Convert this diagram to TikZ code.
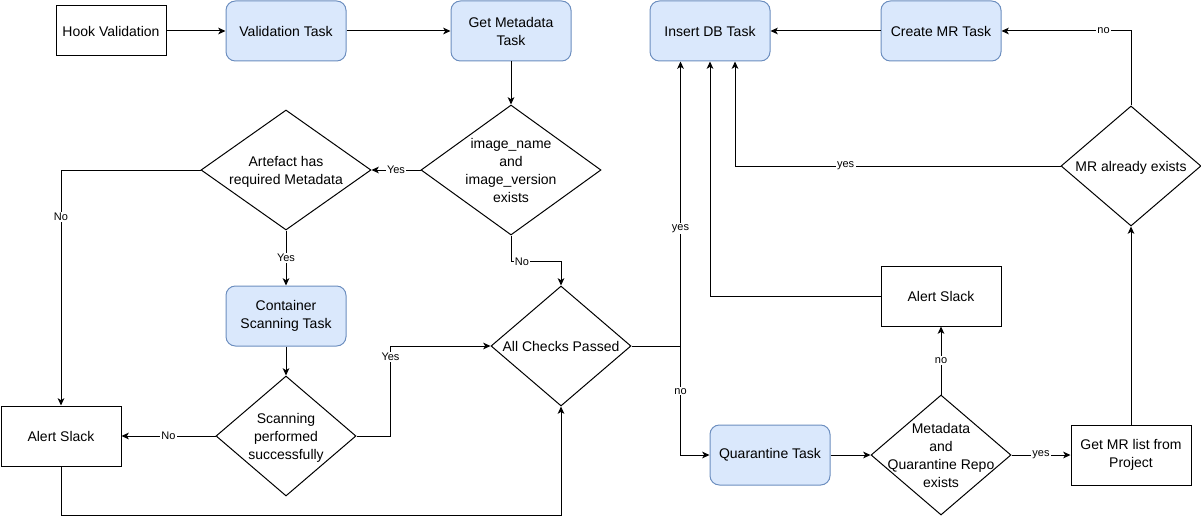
\documentclass[tikz,border=0pt]{standalone}
\usepackage{fontspec}
\setmainfont{Liberation Sans}
\usepackage{xcolor}
\usepackage{tikz}
\usetikzlibrary{shapes.geometric,calc,arrows.meta}
\definecolor{taskfill}{HTML}{DAE8FC}
\definecolor{taskline}{HTML}{6C8EBF}
\newcommand{\dtxt}[1]{\makebox[0pt]{\smash{\raisebox{-0.42em}{\begin{tabular}{@{}c@{}}#1\end{tabular}}}}}

\begin{document}
\begin{tikzpicture}[x=0.75pt,y=-0.75pt,line width=0.75pt,
  >={Stealth[length=5.5pt,width=5pt,inset=1.5pt]},
  font=\fontsize{10.5}{13.5}\selectfont,
  task/.style={draw=taskline,fill=taskfill,rounded corners=7pt,minimum width=90pt,minimum height=45pt,align=center,inner sep=2pt},
  box/.style={draw,fill=white,minimum width=90pt,minimum height=45pt,align=center,inner sep=2pt},
  dia/.style={draw,diamond,inner sep=0pt,minimum width=105pt,minimum height=90pt},
  lbl/.style={fill=white,inner sep=1pt,font=\fontsize{8.25}{9}\selectfont}]
\useasboundingbox (0,0) rectangle (1201,524);
\node[box,minimum width=82.5pt,minimum height=37.5pt] (hook) at (111,31) {Hook Validation};
\node[task] (valid) at (286,31) {Validation Task};
\node[task] (getmeta) at (511,31) {Get Metadata\\Task};
\node[task] (insertdb) at (710,31) {Insert DB Task};
\node[task] (createmr) at (941,31) {Create MR Task};
\node[dia,minimum width=135pt,minimum height=97.5pt] (chkname) at (511,170) {\dtxt{image\_name\\and\\image\_version\\exists}};
\node[dia,minimum width=127.5pt] (artefact) at (286,170) {\dtxt{Artefact has\\required Metadata}};
\node[task] (scanjob) at (286,316) {Container\\Scanning Task};
\node[dia] (scanok) at (286,436) {\dtxt{Scanning\\performed\\successfully}};
\node[box] (slackl) at (61,436) {Alert Slack};
\node[dia] (allchk) at (561,346) {\dtxt{All Checks Passed}};
\node[box] (slackr) at (941,296) {Alert Slack};
\node[task] (quar) at (770,455) {Quarantine Task};
\node[dia] (quarok) at (941,455) {\dtxt{Metadata\\and\\Quarantine Repo\\exists}};
\node[box] (getmr) at (1131,455) {Get MR list from\\Project};
\node[dia] (mrexists) at (1131,166) {\dtxt{MR already exists}};
% left part
\draw[->] (hook) -- (valid);
\draw[->] (valid) -- (getmeta);
\draw[->] (getmeta) -- (chkname);
\draw[->] (chkname) -- node[lbl]{Yes} (artefact);
\draw[->] (chkname.south) -- ++(0,26) -| node[lbl,pos=0.11]{No} (allchk.north);
\draw[->] (artefact.west) -| node[lbl,pos=0.6]{No} (slackl.north);
\draw[->] (artefact) -- node[lbl]{Yes} (scanjob);
\draw[->] (scanjob) -- (scanok);
\draw[->] (scanok) -- node[lbl]{No} (slackl);
\draw[->] (scanok.east) -- ++(34,0) |- node[lbl,pos=0.44]{Yes} (allchk.west);
\draw[->] (slackl.south) -- ++(0,49) -| (allchk.south);
% right part
\coordinate (split) at ($(allchk.east)+(49,0)$);
\draw[->] (allchk.east) -- (split) -- node[lbl,pos=0.414]{yes} (split |- insertdb.south);
\draw[->] (split) |- node[lbl,pos=0.207]{no} (quar.west);
\draw[->] (quar) -- (quarok);
\draw[->] (quarok) -- node[lbl]{no} (slackr);
\draw[->] (quarok) -- node[lbl]{yes} (getmr);
\draw[->] (getmr) -- (mrexists);
\draw[->] (mrexists.west) -| node[lbl,pos=0.33]{yes} ($(insertdb.south)+(25,0)$);
\draw[->] (mrexists.north) |- node[lbl,pos=0.606]{no} (createmr.east);
\draw[->] (createmr) -- (insertdb);
\draw[->] (slackr.west) -| (insertdb.south);
\end{tikzpicture}
\end{document}
